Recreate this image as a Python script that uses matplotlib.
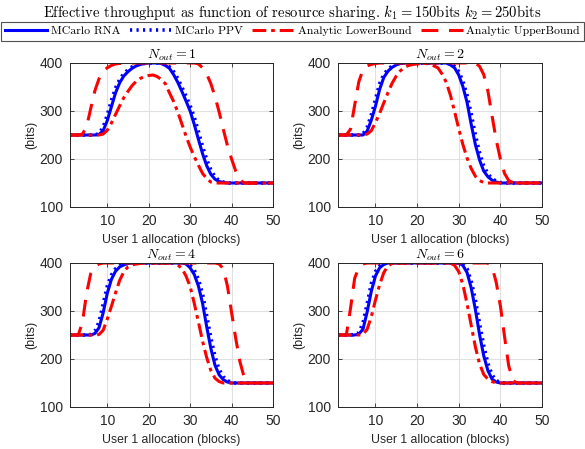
import numpy as np
import matplotlib.pyplot as plt

plt.rcParams['mathtext.fontset'] = 'cm'
plt.rcParams['font.family'] = ['Liberation Sans', 'DejaVu Sans']

# user 1 allocation (blocks)
x = np.arange(1, 51)

n_out = [1, 2, 4, 6]

# N_out = 1
rna_1 = [250, 250, 250, 250, 250, 250, 250, 251, 259, 280,
         309, 338, 359, 373, 382, 389, 394, 397, 399, 400,
         400, 400, 399, 395, 389, 376, 360, 341, 321, 300,
         272, 241, 211, 186, 168, 158, 153, 151, 150, 150,
         150, 150, 150, 150, 150, 150, 150, 150, 150, 150]
ppv_1 = [250, 250, 250, 250, 250, 250, 250, 253, 266, 292,
         322, 348, 366, 378, 386, 392, 396, 398, 399, 400,
         400, 400, 400, 397, 392, 382, 368, 350, 331, 311,
         287, 257, 226, 199, 177, 163, 155, 152, 150, 150,
         150, 150, 150, 150, 150, 150, 150, 150, 150, 150]
low_1 = [250, 250, 250, 250, 250, 250, 250, 250, 252, 260,
         275, 293, 311, 328, 341, 353, 362, 368, 372, 374,
         375, 372, 366, 357, 338, 320, 298, 273, 248, 225,
         205, 187, 170, 159, 152, 150, 150, 150, 150, 150,
         150, 150, 150, 150, 150, 150, 150, 150, 150, 150]
up_1 = [250, 250, 250, 252, 267, 305, 342, 367, 383, 390,
        395, 398, 399, 400, 400, 400, 400, 400, 400, 400,
        400, 400, 400, 400, 400, 400, 400, 400, 400, 400,
        400, 398, 390, 377, 357, 330, 298, 262, 228, 200,
        175, 157, 150, 150, 150, 150, 150, 150, 150, 150]

# N_out = 2
rna_2 = [250, 250, 250, 250, 250, 250, 250, 258, 281, 310,
         345, 370, 383, 391, 396, 399, 400, 400, 400, 400,
         400, 400, 400, 400, 400, 400, 400, 396, 390, 375,
         351, 318, 272, 230, 198, 175, 163, 156, 152, 150,
         150, 150, 150, 150, 150, 150, 150, 150, 150, 150]
ppv_2 = [250, 250, 250, 250, 250, 250, 252, 266, 292, 324,
         357, 376, 387, 394, 398, 400, 400, 400, 400, 400,
         400, 400, 400, 400, 400, 400, 400, 398, 393, 382,
         362, 333, 294, 250, 213, 186, 169, 159, 154, 151,
         150, 150, 150, 150, 150, 150, 150, 150, 150, 150]
low_2 = [250, 250, 250, 250, 250, 250, 250, 252, 259, 276,
         295, 317, 338, 358, 373, 384, 391, 395, 397, 398,
         399, 399, 398, 394, 390, 377, 360, 333, 299, 263,
         230, 202, 180, 164, 155, 151, 150, 150, 150, 150,
         150, 150, 150, 150, 150, 150, 150, 150, 150, 150]
up_2 = [250, 250, 250, 262, 312, 361, 386, 394, 397, 399,
        400, 400, 400, 400, 400, 400, 400, 400, 400, 400,
        400, 400, 400, 400, 400, 400, 400, 400, 400, 400,
        400, 400, 400, 400, 393, 376, 342, 290, 240, 200,
        170, 155, 151, 150, 150, 150, 150, 150, 150, 150]

# N_out = 4
rna_4 = [250, 250, 250, 250, 250, 250, 253, 265, 296, 337,
         366, 383, 392, 396, 399, 400, 400, 400, 400, 400,
         400, 400, 400, 400, 400, 400, 400, 400, 398, 390,
         376, 352, 316, 267, 222, 187, 167, 157, 152, 150,
         150, 150, 150, 150, 150, 150, 150, 150, 150, 150]
ppv_4 = [250, 250, 250, 250, 250, 251, 258, 277, 314, 352,
         375, 388, 395, 398, 400, 400, 400, 400, 400, 400,
         400, 400, 400, 400, 400, 400, 400, 400, 400, 395,
         385, 366, 335, 290, 244, 205, 178, 163, 155, 151,
         150, 150, 150, 150, 150, 150, 150, 150, 150, 150]
low_4 = [250, 250, 250, 250, 250, 250, 250, 251, 260, 283,
         310, 338, 364, 382, 392, 396, 398, 399, 400, 400,
         400, 400, 400, 400, 400, 400, 396, 389, 373, 351,
         316, 277, 237, 203, 176, 160, 153, 150, 150, 150,
         150, 150, 150, 150, 150, 150, 150, 150, 150, 150]
up_4 = [250, 250, 250, 276, 337, 378, 393, 398, 400, 400,
        400, 400, 400, 400, 400, 400, 400, 400, 400, 400,
        400, 400, 400, 400, 400, 400, 400, 400, 400, 400,
        400, 400, 400, 400, 400, 400, 398, 388, 352, 297,
        243, 195, 163, 150, 150, 150, 150, 150, 150, 150]

# N_out = 6
rna_6 = [250, 250, 250, 250, 250, 252, 262, 298, 341, 373,
         390, 397, 400, 400, 400, 400, 400, 400, 400, 400,
         400, 400, 400, 400, 400, 400, 400, 400, 400, 400,
         395, 380, 348, 303, 251, 207, 176, 158, 152, 150,
         150, 150, 150, 150, 150, 150, 150, 150, 150, 150]
ppv_6 = [250, 250, 250, 250, 251, 255, 275, 315, 357, 382,
         394, 399, 400, 400, 400, 400, 400, 400, 400, 400,
         400, 400, 400, 400, 400, 400, 400, 400, 400, 400,
         398, 388, 362, 323, 274, 228, 191, 167, 155, 151,
         150, 150, 150, 150, 150, 150, 150, 150, 150, 150]
low_6 = [250, 250, 250, 250, 250, 250, 251, 262, 288, 323,
         355, 380, 394, 399, 400, 400, 400, 400, 400, 400,
         400, 400, 400, 400, 400, 400, 400, 400, 395, 382,
         355, 315, 270, 225, 190, 168, 158, 153, 150, 150,
         150, 150, 150, 150, 150, 150, 150, 150, 150, 150]
up_6 = [250, 250, 250, 305, 368, 391, 398, 400, 400, 400,
        400, 400, 400, 400, 400, 400, 400, 400, 400, 400,
        400, 400, 400, 400, 400, 400, 400, 400, 400, 400,
        400, 400, 400, 400, 400, 400, 400, 392, 360, 311,
        247, 186, 155, 150, 150, 150, 150, 150, 150, 150]

rna = [rna_1, rna_2, rna_4, rna_6]
ppv = [ppv_1, ppv_2, ppv_4, ppv_6]
low = [low_1, low_2, low_4, low_6]
up = [up_1, up_2, up_4, up_6]

fig = plt.figure(figsize=(5.85, 4.49), dpi=100)

W, H = 585.0, 449.0
# axes boxes in pixels: left, top, right, bottom
boxes = [(70, 63, 273, 207), (338, 63, 542, 207),
         (70, 263, 273, 407), (338, 263, 542, 407)]

txt = '#262626'
handles = None
for i, (l, t, r, b) in enumerate(boxes):
    ax = fig.add_axes([l / W, 1 - b / H, (r - l) / W, (b - t) / H])
    h1, = ax.plot(x, rna[i], color='#0000ff', lw=2.2, ls='-')
    h2, = ax.plot(x, ppv[i], color='#0000ff', lw=2.6, ls=(0, (0.6, 1.2)))
    h3, = ax.plot(x, low[i], color='#ff0000', lw=2.2, ls=(0, (4.5, 1.6, 1.2, 1.6)))
    h4, = ax.plot(x, up[i], color='#ff0000', lw=2.2, ls=(0, (5.5, 3.5)))
    handles = [h1, h2, h3, h4]

    ax.set_xlim(1, 50)
    ax.set_ylim(100, 400)
    ax.set_xticks([10, 20, 30, 40, 50])
    ax.set_yticks([100, 200, 300, 400])
    ax.grid(True, color='#e0e0e0', lw=0.8)
    ax.set_axisbelow(True)
    ax.tick_params(direction='in', length=3, width=0.6, top=True, right=True,
                   labelsize=10, colors=txt, pad=5)
    for sp in ax.spines.values():
        sp.set_color(txt)
        sp.set_linewidth(0.7)
    ax.set_xlabel('User 1 allocation (blocks)', fontsize=8.8, color=txt, labelpad=4)
    ax.set_ylabel('(bits)', fontsize=9, color=txt, labelpad=2)
    ax.set_title(r'$N_{out} = %d$' % n_out[i], fontsize=10, pad=3)

fig.text(0.5, 1 - 12 / H,
         r'Effective throughput as function of resource sharing. $k_1 = 150$bits $k_2 = 250$bits',
         ha='center', va='center', fontsize=10.5, family='cmr10')

leg = fig.legend(handles, ['MCarlo RNA', 'MCarlo PPV', 'Analytic LowerBound', 'Analytic UpperBound'],
                 loc='upper center', bbox_to_anchor=(0.5, 1 - 22 / H),
                 ncol=4, borderaxespad=0, fancybox=False,
                 handlelength=3.55, handletextpad=0.3, columnspacing=0.8,
                 borderpad=0.35, prop={'family': 'cmr10', 'size': 8.5})
leg.get_frame().set_edgecolor('#262626')
leg.get_frame().set_linewidth(0.8)

fig.savefig('out.png', dpi=100)
